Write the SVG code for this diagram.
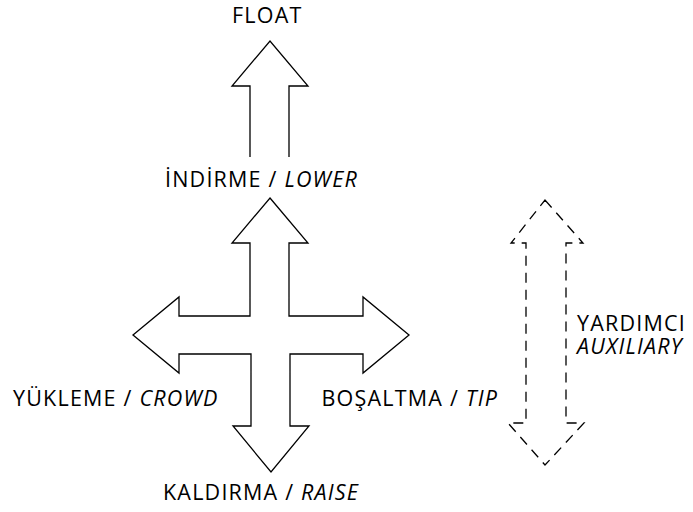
<svg xmlns="http://www.w3.org/2000/svg" width="693" height="512" viewBox="0 0 693 512">
<style>
.a{fill:none;stroke:#000;stroke-width:1.3;stroke-linejoin:miter}
.d{fill:none;stroke:#000;stroke-width:1.3;stroke-dasharray:10 7}
text{font-family:"Open Sans","Noto Sans","DejaVu Sans",sans-serif;font-size:21.5px;letter-spacing:1.2px;fill:#000}
.i{font-style:italic}
</style>
<rect width="693" height="512" fill="#fff"/>
<g id="connectors">
<path id="float-arrow" class="a" d="M250,157 V86 H232 L270,41 L308,86 H289 V157"/>
<path id="cross-arrow" class="a" d="M270,198 L308,243 H289 V316 H363 V297 L409,335 L363,373 V354 H290 V426 H309 L271,472 L233,426 H251 V354 H179 V373 L133,335 L179,297 V316 H250 V243 H232 Z"/>
<path id="aux-arrow" class="d" d="M545,200 L583,243 H566 V423 H584 L545,465 L508,423 H526 V243 H511 Z"/>
</g>
<g id="float"><text x="232" y="22.5">FLOAT</text></g>
<g id="lower"><text x="165" y="187">İNDİRME / <tspan class="i">LOWER</tspan></text></g>
<g id="crowd"><text x="13" y="406">YÜKLEME / <tspan class="i">CROWD</tspan></text></g>
<g id="tip"><text x="321.5" y="406">BOŞALTMA / <tspan class="i">TIP</tspan></text></g>
<g id="raise"><text x="163" y="500">KALDIRMA / <tspan class="i">RAISE</tspan></text></g>
<g id="auxiliary"><text x="577" y="331">YARDIMCI</text><text x="577" y="354" class="i">AUXILIARY</text></g>
</svg>
